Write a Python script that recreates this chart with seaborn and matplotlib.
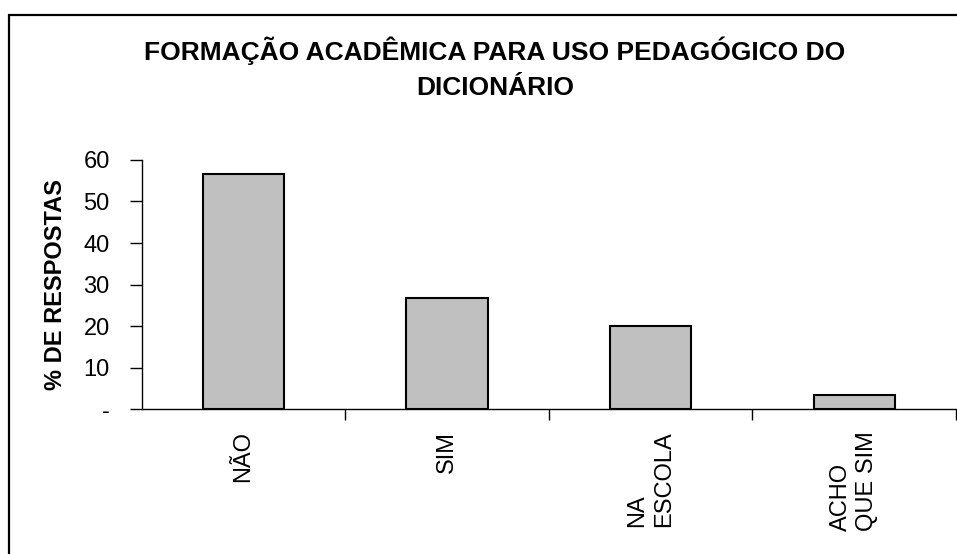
import matplotlib
matplotlib.use('Agg')
import matplotlib.pyplot as plt
import seaborn as sns
from matplotlib.patches import Rectangle
from matplotlib.ticker import FixedLocator

categorias = ['NÃO', 'SIM', 'NA\nESCOLA', 'ACHO\nQUE SIM']
respostas = [56.7, 26.7, 20.0, 3.3]
yticks = [0, 10, 20, 30, 40, 50, 60]
ytick_labels = ['-', '10', '20', '30', '40', '50', '60']

sns.set_theme(style='white')
plt.rcParams['font.family'] = ['Liberation Sans', 'DejaVu Sans']
plt.rcParams['text.color'] = 'black'

fig = plt.figure(figsize=(9.57, 5.54), dpi=100)
ax = fig.add_axes([0.148, 0.2617, 0.851, 0.4495])

sns.barplot(x=categorias, y=respostas, color='#c0c0c0', edgecolor='black',
            linewidth=1.5, width=0.4, saturation=1, ax=ax)

ax.set_xlim(-0.5, 3.5)
ax.set_ylim(0, 60)
ax.set_yticks(yticks)
ax.set_yticklabels(ytick_labels, fontsize=17, color='black')
ax.set_xticks(range(len(categorias)))
ax.set_xticklabels(categorias, rotation=90, fontsize=17, color='black',
                   va='top', ha='center', multialignment='left', linespacing=1.25)
ax.xaxis.set_minor_locator(FixedLocator([0.5, 1.5, 2.5, 3.5]))
ax.tick_params(axis='x', which='major', length=0, pad=16)
ax.tick_params(axis='x', which='minor', length=8, width=1, color='black', direction='out', bottom=True)
ax.tick_params(axis='y', length=9, width=1, color='black', direction='out', left=True, pad=14)

for s in ['top', 'right']:
    ax.spines[s].set_visible(False)
for s in ['left', 'bottom']:
    ax.spines[s].set_color('black')
    ax.spines[s].set_linewidth(1)

ax.set_ylabel('% DE RESPOSTAS', fontsize=17, fontweight='bold', color='black', labelpad=12)
ax.set_xlabel('')

fig.text(0.517, 0.935, 'FORMAÇÃO ACADÊMICA PARA USO PEDAGÓGICO DO\nDICIONÁRIO',
         ha='center', va='top', fontsize=19, fontweight='bold', linespacing=1.6,
         color='black')

# moldura do gráfico
fig.patches.append(Rectangle((9 / 957, -0.1), 1.2, 1.1 - 15 / 554,
                             transform=fig.transFigure, fill=False,
                             edgecolor='black', linewidth=1.6))

fig.savefig('out.png', dpi=100, facecolor='white')
